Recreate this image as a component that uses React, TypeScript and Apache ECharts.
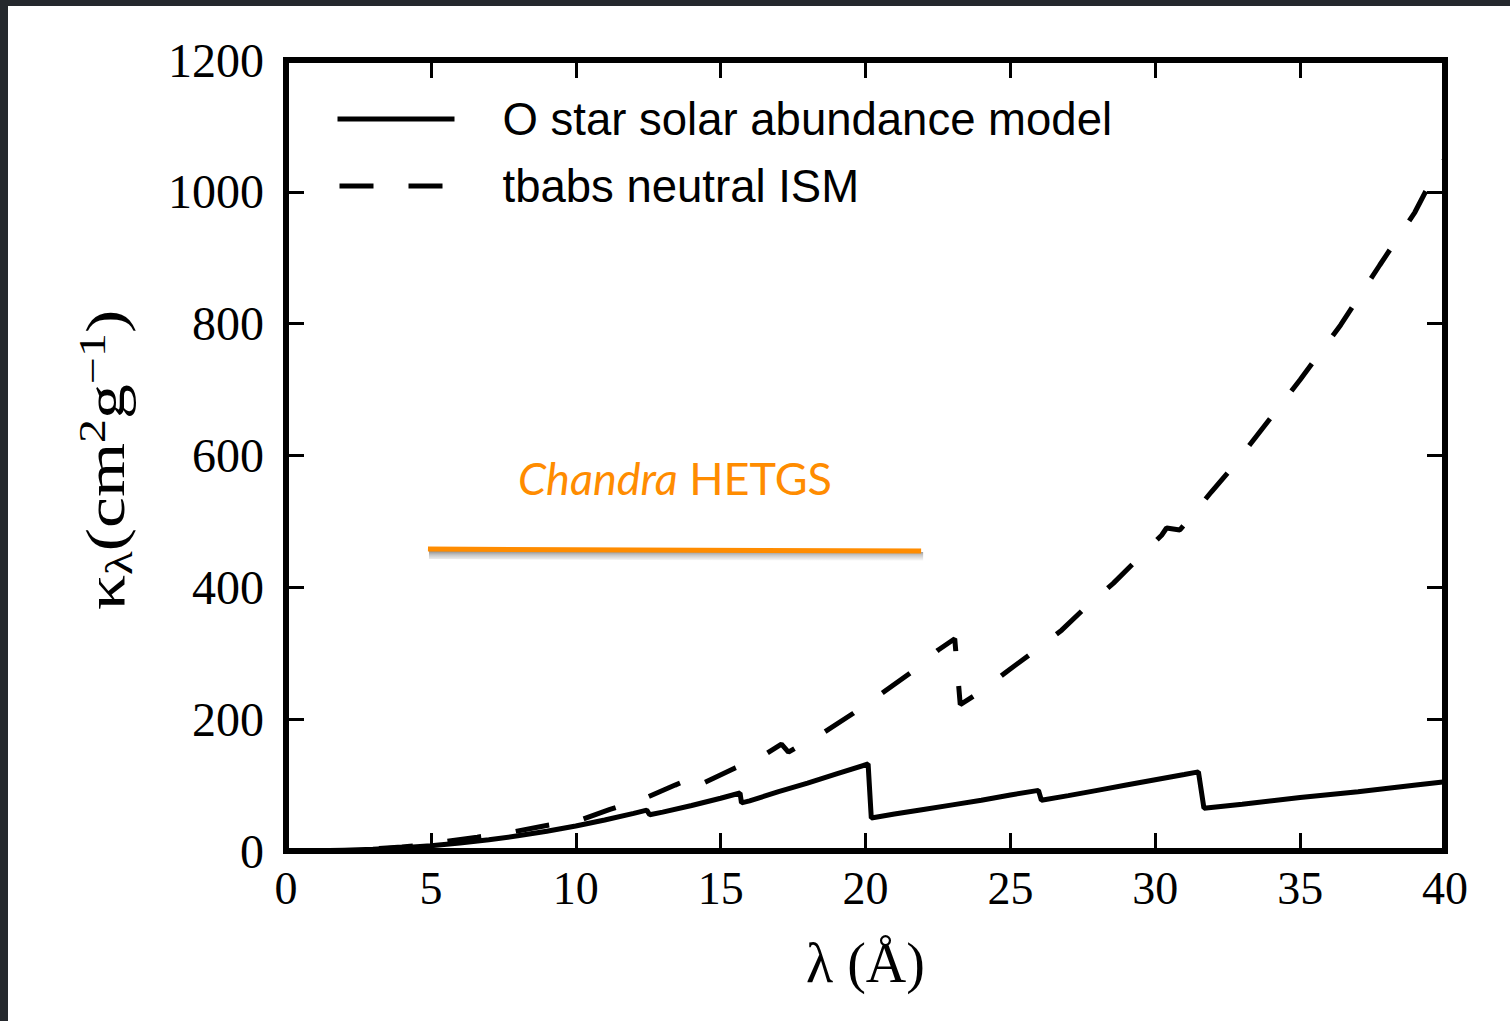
import React, { useEffect, useRef } from 'react';
import * as echarts from 'echarts';

// O star solar abundance model (solid)
const solidWavelength = [0, 1, 2, 3, 4, 5, 6, 7, 8, 9, 10, 11, 12, 12.45, 12.55, 13, 14, 15, 15.67, 15.72, 16, 17, 18, 19, 20.09, 20.2, 21, 22, 23, 24, 25, 25.97, 26.07, 27, 28, 29, 30, 31, 31.49, 31.68, 33, 35, 37, 39, 40];
const solidKappa = [0, 0.3, 1, 2.5, 5, 8, 12, 17, 23, 30, 38, 47, 57, 62, 55, 59, 69, 80, 88, 73, 76, 90, 103, 117, 132, 50, 56, 63, 70, 77, 85, 92, 77, 84, 92, 100, 108, 116, 120, 65, 71, 81, 90, 100, 105];

// tbabs neutral ISM (dashed)
const dashWavelength = [0, 1, 2, 3, 4, 5, 5.3, 6.6, 7.84, 8.9, 10.15, 11.18, 12.39, 13.43, 14.3, 14.35, 15.5, 16.59, 17.1, 17.34, 17.57, 18.6, 19.58, 20.59, 21.54, 22.51, 23.08, 23.27, 23.88, 24.87, 25.79, 26.77, 27.63, 28.55, 29.35, 30.22, 30.39, 30.85, 31.14, 31.94, 32.68, 35, 36.4, 37.75, 38.96, 39.48, 40];
const dashKappa = [0, 0.3, 1.2, 3, 6, 10, 13, 21, 29, 38, 47, 63, 80, 100, 116, 102, 126, 148, 162, 150, 156, 181, 209, 240, 270, 305, 322, 222, 239, 272, 302, 335, 371, 406, 441, 479, 490, 487, 502, 545, 583, 715, 798, 889, 969, 1013, 1050];

// Chandra HETGS band marker
const hetgsWavelength = [4.9, 21.92];
const hetgsKappa = [458, 455];

const seriesNames = ['O star solar abundance model', 'tbabs neutral ISM'];
const annotationText = ['Chandra', 'HETGS'];
const yAxisTitle = '{t|κ}{sub|λ}{t|(cm}{sup|2}{t|g}{sup|−1}{t|)}';

const zip = (xs: number[], ys: number[]) => xs.map((x, i) => [x, ys[i]]);

export default function App() {
  const ref = useRef<HTMLDivElement>(null);
  useEffect(() => {
    const chart = echarts.init(ref.current!, null, { renderer: 'svg' });
    const serif = 'Liberation Serif';
    const tick = () => ({ show: true, inside: true, length: 18, lineStyle: { width: 3, color: '#000' } });
    const noLine = () => ({ show: false, onZero: false });
    chart.setOption({
      animation: false,
      backgroundColor: '#ffffff',
      grid: { left: 286, top: 60, width: 1159, height: 791, show: true, borderWidth: 6, borderColor: '#000', backgroundColor: 'transparent' },
      legend: {
        data: seriesNames,
        orient: 'vertical',
        left: 335,
        top: 96,
        padding: 0,
        itemWidth: 117,
        itemHeight: 14,
        itemGap: 21,
        itemStyle: { color: 'rgba(0,0,0,0)', borderColor: 'rgba(0,0,0,0)', borderWidth: 0 },
        lineStyle: { width: 5, dashOffset: -2 },
        textStyle: { fontSize: 45.5, lineHeight: 44, fontFamily: 'Liberation Sans', color: '#000', padding: [0, 0, 0, 43] },
      },
      xAxis: [
        {
          type: 'value', min: 0, max: 40, interval: 5, position: 'bottom',
          axisLine: noLine(), axisTick: tick(), splitLine: { show: false },
          axisLabel: { margin: 14, fontSize: 46, fontFamily: serif, color: '#000', formatter: (v: number) => String(v) },
          name: 'λ (Å)', nameLocation: 'middle', nameGap: 84,
          nameTextStyle: { fontSize: 56, fontFamily: serif, color: '#000' },
        },
        {
          type: 'value', min: 0, max: 40, interval: 5, position: 'top',
          axisLine: noLine(), axisTick: tick(), splitLine: { show: false }, axisLabel: { show: false },
        },
      ],
      yAxis: [
        {
          type: 'value', min: 0, max: 1200, interval: 200, position: 'left',
          axisLine: noLine(), axisTick: tick(), splitLine: { show: false },
          axisLabel: { margin: 22, fontSize: 48, fontFamily: serif, color: '#000', formatter: (v: number) => String(v) },
        },
        {
          type: 'value', min: 0, max: 1200, interval: 200, position: 'right',
          axisLine: noLine(), axisTick: tick(), splitLine: { show: false }, axisLabel: { show: false },
        },
      ],
      series: [
        {
          name: seriesNames[0], type: 'line', data: zip(solidWavelength, solidKappa),
          symbol: 'none', lineStyle: { color: '#000', width: 5 }, itemStyle: { color: '#000' }, z: 3,
        },
        {
          name: seriesNames[1], type: 'line', data: zip(dashWavelength, dashKappa),
          symbol: 'none', lineStyle: { color: '#000', width: 5, type: [34, 35], dashOffset: 45, cap: 'butt' }, itemStyle: { color: '#000' }, z: 3,
        },
        {
          name: 'Chandra HETGS', type: 'line', data: zip(hetgsWavelength, hetgsKappa), silent: true,
          symbol: 'none',
          lineStyle: { color: '#ff8c00', width: 5 },
          itemStyle: { color: '#ff8c00' }, z: 4,
        },
      ],
    });

    // soft drop shadow under the HETGS bar, positioned through the chart's own scales
    const p1 = chart.convertToPixel({ gridIndex: 0 }, [hetgsWavelength[0], hetgsKappa[0]]) as number[];
    const p2 = chart.convertToPixel({ gridIndex: 0 }, [hetgsWavelength[1], hetgsKappa[1]]) as number[];

    chart.setOption({
      graphic: [
        { type: 'rect', shape: { x: 0, y: 0, width: 8, height: 1021 }, style: { fill: '#25282d' }, silent: true },
        { type: 'rect', shape: { x: 0, y: 0, width: 1510, height: 6 }, style: { fill: '#25282d' }, silent: true },
        {
          type: 'polygon', z: 1, silent: true,
          shape: { points: [[p1[0] + 1, p1[1] + 1], [p2[0] + 2, p2[1] + 1], [p2[0] + 2, p2[1] + 10], [p1[0] + 1, p1[1] + 10]] },
          style: {
            fill: new echarts.graphic.LinearGradient(0, 0, 0, 1, [
              { offset: 0, color: 'rgba(0,0,0,0.5)' },
              { offset: 0.45, color: 'rgba(0,0,0,0.22)' },
              { offset: 1, color: 'rgba(0,0,0,0)' },
            ]),
          },
        },
        {
          type: 'text', x: 106, y: 460, rotation: Math.PI / 2, scaleX: 1.2, scaleY: 0.93, silent: true,
          style: {
            text: yAxisTitle,
            align: 'center', verticalAlign: 'middle',
            fontSize: 58, fontFamily: serif, fill: '#000',
            rich: {
              t: { fontSize: 58, lineHeight: 70, fontFamily: serif, fill: '#000' },
              sub: { fontSize: 41, lineHeight: 42, verticalAlign: 'bottom', fontFamily: serif, fill: '#000' },
              sup: { fontSize: 40, lineHeight: 40, verticalAlign: 'top', fontFamily: serif, fill: '#000' },
            },
          },
        },
        {
          type: 'text', x: 675, y: 478, silent: true,
          style: {
            text: `{i|${annotationText[0]}} {n|${annotationText[1]}}`,
            align: 'center', verticalAlign: 'middle',
            fontSize: 45, fontFamily: 'Lato', fill: '#ff8c00',
            rich: {
              i: { fontStyle: 'italic', fontSize: 45, fontFamily: 'Lato', fill: '#ff8c00' },
              n: { fontSize: 45, fontFamily: 'Lato', fill: '#ff8c00' },
            },
          },
        },
      ],
    });
    return () => chart.dispose();
  }, []);
  return <div ref={ref} style={{ position: 'fixed', left: 0, top: 0, width: 1510, height: 1021 }} />;
}
